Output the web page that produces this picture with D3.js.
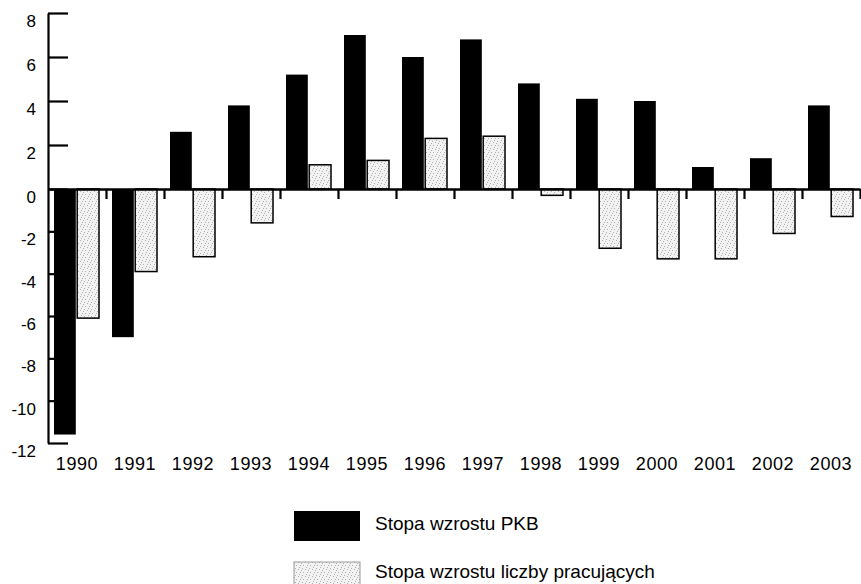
<!DOCTYPE html>
<html>
<head>
<meta charset="utf-8">
<script src="https://cdn.jsdelivr.net/npm/d3@7"></script>
<style>
  body { margin: 0; background: #fff; }
  svg { display: block; font-family: Arial, "Liberation Sans", sans-serif; }
</style>
</head>
<body>
<div id="chart"></div>
<script>
// Data
const years = ['1990', '1991', '1992', '1993', '1994', '1995', '1996',
               '1997', '1998', '1999', '2000', '2001', '2002', '2003'];
const gdpGrowth = [-11.6, -7.0, 2.6, 3.8, 5.2, 7.0, 6.0, 6.8, 4.8, 4.1, 4.0, 1.0, 1.4, 3.8];
const employmentGrowth = [-6.1, -3.9, -3.2, -1.6, 1.1, 1.3, 2.3, 2.4, -0.3, -2.8, -3.3, -3.3, -2.1, -1.3];
const yTicks = [8, 6, 4, 2, 0, -2, -4, -6, -8, -10, -12];
const seriesNames = ['Stopa wzrostu PKB', 'Stopa wzrostu liczby pracujących'];

const W = 861, H = 584;

const svg = d3.select('#chart').append('svg')
  .attr('width', W)
  .attr('height', H);

// stipple fill for the light bars
const defs = svg.append('defs');
const pat = defs.append('pattern')
  .attr('id', 'stipple')
  .attr('patternUnits', 'userSpaceOnUse')
  .attr('width', 7).attr('height', 7);
pat.append('rect').attr('width', 7).attr('height', 7).attr('fill', '#f2f2f2');
[[1, 1], [4, 2], [2, 5], [6, 5], [5, 0], [0, 3]].forEach(p => {
  pat.append('rect').attr('x', p[0]).attr('y', p[1])
    .attr('width', 1).attr('height', 1).attr('fill', '#b0b0b0');
});

// Scales (the scan is slightly stretched above zero, hence 3-point range)
const x = d3.scaleBand().domain(years).range([48, 860]).padding(0);
const x1 = d3.scaleBand().domain([0, 1]).range([6, 51]).paddingInner(0.06);
const y = d3.scaleLinear().domain([-12, 0, 8]).range([443, 189, 13]);

// Y axis: ticks pointing inward, labels sitting a little below the ticks
const yAxis = svg.append('g')
  .attr('transform', 'translate(48,0)')
  .call(d3.axisLeft(y)
    .tickValues(yTicks)
    .tickSizeInner(-20)
    .tickSizeOuter(0)
    .tickPadding(12)
    .tickFormat(d => String(d)));
yAxis.select('.domain').attr('stroke', '#000').attr('stroke-width', 2.2);
yAxis.selectAll('.tick line').attr('stroke', '#000').attr('stroke-width', 2.2);
yAxis.selectAll('.tick text')
  .attr('fill', '#000')
  .attr('font-size', 17)
  .attr('font-family', 'Arial, "Liberation Sans", sans-serif')
  .attr('dy', '0.32em')
  .attr('y', 8);

// Bars
const groups = svg.append('g')
  .selectAll('g')
  .data(years)
  .join('g')
  .attr('transform', d => `translate(${x(d)},0)`);

groups.append('rect')
  .attr('x', x1(0))
  .attr('width', x1.bandwidth())
  .attr('y', (d, i) => y(Math.max(0, gdpGrowth[i])))
  .attr('height', (d, i) => Math.abs(y(gdpGrowth[i]) - y(0)))
  .attr('fill', '#000');

groups.append('rect')
  .attr('x', x1(1))
  .attr('width', x1.bandwidth())
  .attr('y', (d, i) => y(Math.max(0, employmentGrowth[i])))
  .attr('height', (d, i) => Math.abs(y(employmentGrowth[i]) - y(0)))
  .attr('fill', 'url(#stipple)')
  .attr('stroke', '#000')
  .attr('stroke-width', 1.5);

// Zero line with short ticks between the years
const xEdge = d3.scaleLinear().domain([0, years.length]).range([48, 860]);
const xAxis = svg.append('g')
  .attr('transform', `translate(0,${y(0)})`)
  .call(d3.axisBottom(xEdge)
    .tickValues(d3.range(1, years.length + 1))
    .tickSizeInner(10)
    .tickSizeOuter(0)
    .tickFormat(''));
xAxis.select('.domain').attr('stroke', '#000').attr('stroke-width', 2.5);
xAxis.selectAll('.tick line').attr('stroke', '#000').attr('stroke-width', 2.2);

// Year labels along the bottom
const xLabels = svg.append('g')
  .attr('transform', 'translate(0,470)')
  .call(d3.axisBottom(x).tickSize(0).tickPadding(0));
xLabels.select('.domain').remove();
xLabels.selectAll('.tick text')
  .attr('fill', '#000')
  .attr('font-size', 18)
  .attr('font-family', 'Arial, "Liberation Sans", sans-serif')
  .attr('letter-spacing', '0.6px')
  .attr('y', 0)
  .attr('dy', 0);

// Legend
const legend = svg.append('g');
const legendRows = [
  { name: seriesNames[0], fill: '#000', stroke: 'none', top: 511, h: 30, base: 530 },
  { name: seriesNames[1], fill: 'url(#stipple)', stroke: '#999', top: 562, h: 24, base: 578 }
];
legendRows.forEach(r => {
  legend.append('rect')
    .attr('x', 294).attr('y', r.top)
    .attr('width', 66).attr('height', r.h)
    .attr('fill', r.fill)
    .attr('stroke', r.stroke)
    .attr('stroke-width', 1);
  legend.append('text')
    .attr('x', 375).attr('y', r.base)
    .attr('font-size', 19)
    .attr('fill', '#000')
    .text(r.name);
});
</script>
</body>
</html>
